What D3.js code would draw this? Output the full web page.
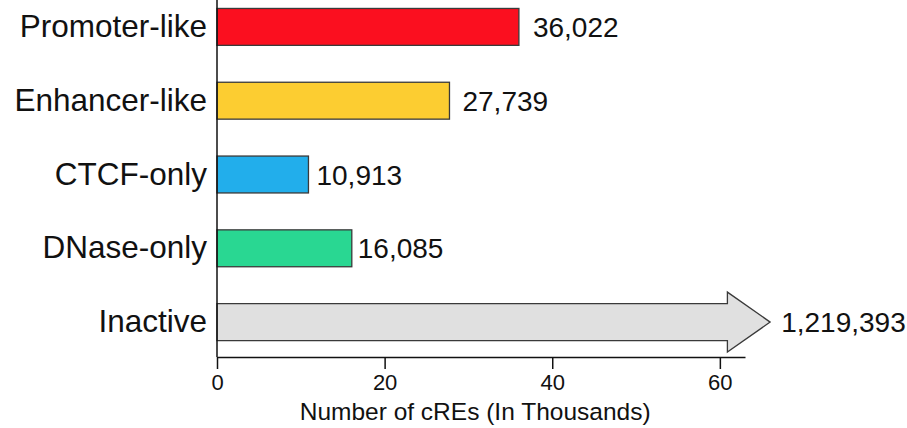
<!DOCTYPE html>
<html>
<head>
<meta charset="utf-8">
<script src="https://cdn.jsdelivr.net/npm/d3@7"></script>
<style>
  body { margin: 0; background: #fff; }
  svg { font-family: "Liberation Sans", Arial, sans-serif; }
</style>
</head>
<body>
<svg id="chart" width="907" height="428"></svg>
<script>
'use strict';

const categories = ["Promoter-like", "Enhancer-like", "CTCF-only", "DNase-only", "Inactive"];
const counts = [36022, 27739, 10913, 16085, 1219393];
const colors = ["#fb0f1f", "#fccd31", "#22aeeb", "#29d792", "#e0e0e0"];
const xTicks = [0, 20, 40, 60];

const svg = d3.select("#chart");
const margin = { top: 0, left: 217 };
const width = 528;
const height = 357;

const x = d3.scaleLinear().domain([0, 63]).range([0, width]);
const y = d3.scaleBand().domain(categories).range([-10, 359]).paddingInner(0.5).paddingOuter(0.25);

const g = svg.append("g").attr("transform", `translate(${margin.left},${margin.top})`);

// regular bars - the last category is drawn as an arrow (off scale)
const normal = categories.slice(0, 4);
g.selectAll("rect.bar")
  .data(normal)
  .enter()
  .append("rect")
  .attr("class", "bar")
  .attr("x", 0)
  .attr("y", d => y(d))
  .attr("width", (d, i) => x(counts[i] / 1000))
  .attr("height", y.bandwidth())
  .attr("fill", (d, i) => colors[i])
  .attr("stroke", "#3a3a3a")
  .attr("stroke-width", 1.3);

const last = categories[4];
const cy = y(last) + y.bandwidth() / 2;
const bodyEnd = x(60.9), tipX = x(66);
const bh = y.bandwidth() / 2, hh = 30;
g.append("path")
  .attr("d", `M0,${cy - bh} L${bodyEnd},${cy - bh} L${bodyEnd},${cy - hh} L${tipX},${cy} L${bodyEnd},${cy + hh} L${bodyEnd},${cy + bh} L0,${cy + bh} Z`)
  .attr("fill", colors[4])
  .attr("stroke", "#3a3a3a")
  .attr("stroke-width", 1.3);

// value labels (gaps were hand placed in the original)
const labelGap = [14, 13, 8, 6, 11];
const fmt = d3.format(",");
g.selectAll("text.val")
  .data(categories)
  .enter()
  .append("text")
  .attr("class", "val")
  .attr("x", (d, i) => (i === 4 ? tipX : x(counts[i] / 1000)) + labelGap[i])
  .attr("y", d => y(d) + y.bandwidth() / 2)
  .attr("dy", "0.36em")
  .attr("font-size", 28)
  .attr("fill", "#111")
  .text((d, i) => fmt(counts[i]));

// y axis
const yAxis = g.append("g").call(d3.axisLeft(y).tickSize(0).tickPadding(10));
yAxis.select(".domain").attr("stroke", "#111").attr("stroke-width", 1.5)
  .attr("d", `M0,0V${height}`);
yAxis.selectAll("text").attr("font-size", 31.5).attr("fill", "#111");

// x axis
const xAxis = g.append("g").attr("transform", `translate(0,${height})`)
  .call(d3.axisBottom(x).tickValues(xTicks).tickSize(12).tickPadding(5).tickSizeOuter(0));
xAxis.select(".domain").attr("stroke", "#111").attr("stroke-width", 1.5);
xAxis.selectAll(".tick line").attr("stroke", "#111").attr("stroke-width", 1.5);
xAxis.selectAll("text").attr("font-size", 22).attr("fill", "#111");

svg.append("text")
  .attr("x", margin.left + x(30.8))
  .attr("y", 420)
  .attr("text-anchor", "middle")
  .attr("font-size", 24.5)
  .attr("fill", "#111")
  .text("Number of cREs (In Thousands)");
</script>
</body>
</html>
